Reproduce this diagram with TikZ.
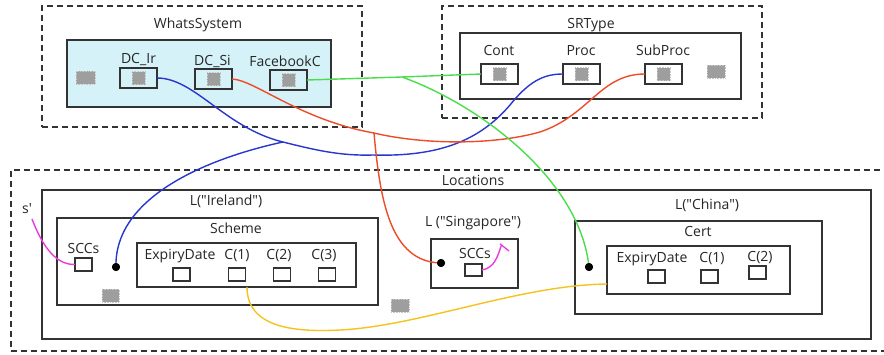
\documentclass[tikz,border=0pt]{standalone}
\usepackage{fontspec}
\newfontfamily\labelfont{Open Sans}
\usetikzlibrary{arrows.meta}
\definecolor{cyanfill}{RGB}{212,242,247}
\definecolor{boxline}{RGB}{51,51,51}
\definecolor{cblue}{RGB}{40,55,205}
\definecolor{cred}{RGB}{238,75,40}
\definecolor{cgreen}{RGB}{75,222,75}
\definecolor{cyellow}{RGB}{245,195,30}
\definecolor{cmag}{RGB}{232,60,222}
\definecolor{sqgray}{RGB}{158,158,158}
\begin{document}
\begin{tikzpicture}[x=1pt,y=-1pt,
  txt/.style={anchor=base, inner sep=0pt, font=\labelfont\fontsize{14}{16}\selectfont, text=black!85},
  dashbox/.style={draw=boxline, line width=1.4pt, dash pattern=on 6pt off 4pt, inner sep=0pt, outer sep=0pt},
  solidbox/.style={draw=boxline, line width=1.2pt, inner sep=0pt, outer sep=0pt},
  port/.style={draw=boxline, line width=1.2pt, inner sep=0pt, outer sep=0pt, minimum width=37pt, minimum height=20pt},
  smallbox/.style={draw=boxline, line width=1.1pt, inner sep=0pt, outer sep=0pt, minimum width=17pt, minimum height=13pt},
  gsq/.style={fill=sqgray, draw=gray!45, densely dotted, line width=0.6pt, inner sep=0pt, outer sep=0pt},
  wire/.style={line width=1.4pt},
  dotnode/.style={circle, fill=black, inner sep=0pt, minimum size=8pt}
]
\clip (0,0) rectangle (884,354);
\fill[white] (0,0) rectangle (884,354);

% ---------- WhatsSystem ----------
\node[dashbox, minimum width=320pt, minimum height=121pt] (whats) at (202,66.5) {};
\node[txt] (lwhats) at (198,28) {WhatsSystem};
\node[solidbox, fill=cyanfill, minimum width=264pt, minimum height=67pt] (cyanbox) at (199,73.5) {};
\node[gsq, minimum width=19pt, minimum height=13pt] (g1) at (85.5,77.5) {};
\node[port] (dcir) at (138.5,78) {};
\node[gsq, minimum width=13pt, minimum height=13pt] (g1a) at (138.5,78) {};
\node[txt] (ldcir) at (138.5,63) {DC\_Ir};
\node[port] (dcsi) at (213.5,79) {};
\node[gsq, minimum width=13pt, minimum height=13pt] (g1b) at (213.5,79) {};
\node[txt] (ldcsi) at (212.5,65) {DC\_Si};
\node[port] (fbc) at (288.5,80) {};
\node[gsq, minimum width=13pt, minimum height=13pt] (g1c) at (288.5,80) {};
\node[txt] (lfbc) at (285,66) {FacebookC};

% ---------- SRType ----------
\node[dashbox, minimum width=320pt, minimum height=112pt] (srtype) at (602,62) {};
\node[txt] (lsrtype) at (591,28) {SRType};
\node[solidbox, fill=white, minimum width=281pt, minimum height=66pt] (srinner) at (600.5,66) {};
\node[port, fill=white] (cont) at (499.5,74) {};
\node[gsq, minimum width=13pt, minimum height=13pt] (g2a) at (499.5,74) {};
\node[txt] (lcont) at (499,55) {Cont};
\node[port, fill=white] (proc) at (581.5,74) {};
\node[gsq, minimum width=13pt, minimum height=13pt] (g2b) at (581.5,74) {};
\node[txt] (lproc) at (581,55) {Proc};
\node[port, fill=white] (subproc) at (663.5,74) {};
\node[gsq, minimum width=13pt, minimum height=13pt] (g2c) at (663.5,74) {};
\node[txt] (lsubproc) at (663,55) {SubProc};
\node[gsq, minimum width=18pt, minimum height=13pt] (g2) at (716,71.5) {};

% ---------- Locations ----------
\node[dashbox, minimum width=889pt, minimum height=181pt] (locations) at (455.5,260.5) {};
\node[txt] (llocations) at (473,185) {Locations};
\node[solidbox, minimum width=829pt, minimum height=149pt] (big) at (456.5,264.5) {};
\node[txt] (lireland) at (226,205) {L("Ireland")};
\node[txt] (lsing) at (473,226) {L ("Singapore")};
\node[txt] (lchina) at (707,209) {L("China")};

% Ireland / Scheme
\node[solidbox, minimum width=321pt, minimum height=87pt] (scheme) at (217.5,261.5) {};
\node[txt] (lscheme) at (236,233) {Scheme};
\node[solidbox, minimum width=219pt, minimum height=44pt] (schinner) at (246.5,265) {};
\node[txt] (led1) at (180,259) {ExpiryDate};
\node[txt] (lc1) at (237,259) {C(1)};
\node[txt] (lc2) at (279,259) {C(2)};
\node[txt] (lc3) at (324,259) {C(3)};
\node[smallbox] (ed1) at (181.5,274.5) {};
\node[smallbox] (c1) at (237,274.5) {};
\node[smallbox] (c2) at (282,274.5) {};
\node[smallbox] (c3) at (327,274.5) {};
\node[txt] (lsccs1) at (83.5,253) {SCCs};
\node[smallbox] (sccs1) at (83.5,264.5) {};
\node[gsq, minimum width=17pt, minimum height=13pt] (g3) at (110.5,295.5) {};
\node[gsq, minimum width=18pt, minimum height=13pt] (g4) at (400,305.5) {};
\node[txt] (lsp) at (27,213) {s'};

% Singapore
\node[solidbox, minimum width=87pt, minimum height=49pt] (sing) at (474.5,263.5) {};
\node[txt] (lsccs2) at (475,258) {SCCs};
\node[smallbox, minimum height=12pt] (sccs2) at (473.5,270) {};

% China / Cert
\node[solidbox, minimum width=247pt, minimum height=93pt] (cert) at (698.5,267.5) {};
\node[txt] (lcert) at (698,236) {Cert};
\node[solidbox, minimum width=183pt, minimum height=48pt] (certinner) at (698.5,270) {};
\node[txt] (led2) at (652,262) {ExpiryDate};
\node[txt] (lc1b) at (712,262) {C(1)};
\node[txt] (lc2b) at (760,261) {C(2)};
\node[smallbox] (ed2) at (656.5,276.5) {};
\node[smallbox] (c1b) at (709.5,276.5) {};
\node[smallbox] (c2b) at (757.5,272.5) {};

% ---------- dots & junctions ----------
\coordinate (jb) at (283,142);
\coordinate (jr) at (374,133);
\coordinate (jg) at (402,77);
\coordinate (y0) at (247,287);
\coordinate (yend) at (607,284);
\coordinate (sp) at (32,219);
\coordinate (mend) at (501.5,245);
\node[dotnode] (dot1) at (116,267) {};
\node[dotnode] (dot2) at (441,263) {};
\node[dotnode] (dot3) at (589,267) {};

% ---------- wires ----------
\draw[wire, cblue] (dcir.east) .. controls (195,78) and (225,128) .. (jb)
   .. controls (315,150) and (340,156) .. (373,155)
   .. controls (440,157) and (480,140) .. (510,105)
   .. controls (530,80) and (545,74) .. (proc.west);
\draw[wire, cblue] (dot1.center) .. controls (114,200) and (200,160) .. (jb);

\draw[wire, cred] (dcsi.east) .. controls (255,80) and (300,120) .. (jr)
   .. controls (420,144) and (490,146) .. (540,132)
   .. controls (590,115) and (600,74) .. (subproc.west);
\draw[wire, cred] (jr) .. controls (380,200) and (390,262) .. (dot2.center);

\draw[wire, cgreen] (fbc.east) -- (jg) -- (cont.west);
\draw[wire, cgreen] (jg) .. controls (480,105) and (580,180) .. (dot3.center);

\draw[wire, cyellow] (y0) .. controls (247,330) and (300,332) .. (340,330)
   .. controls (420,326) and (520,285) .. (yend);

\draw[wire, cmag] (sp) .. controls (42,245) and (55,265) .. (sccs1.west);
\draw[wire, cmag] (sccs2.east) .. controls (495,268) and (498,255) .. (mend);
\draw[wire, cmag] ([shift={(-1.5,-1.2)}]mend) -- ([shift={(7.5,6)}]mend);

\node[dotnode] at (dot1) {};
\node[dotnode] at (dot2) {};
\node[dotnode] at (dot3) {};
\end{tikzpicture}
\end{document}
